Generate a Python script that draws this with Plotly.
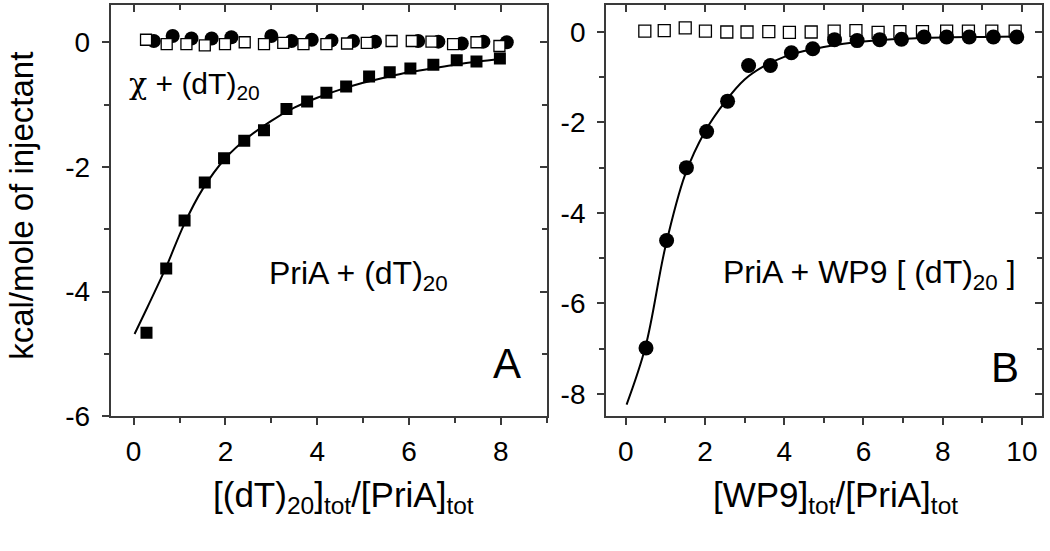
import plotly.graph_objects as go

# ---------------- Panel A data ----------------
a_pria_x = [0.28, 0.71, 1.11, 1.55, 1.97, 2.41, 2.84, 3.33, 3.78, 4.20, 4.63, 5.13, 5.58, 6.03, 6.53, 7.04, 7.47, 7.98]
a_pria_y = [-4.66, -3.63, -2.86, -2.25, -1.86, -1.58, -1.41, -1.07, -0.95, -0.81, -0.71, -0.55, -0.48, -0.42, -0.36, -0.29, -0.31, -0.26]

a_fit_x = [0.02, 0.3, 0.7, 1.1, 1.5, 2.0, 2.5, 3.0, 3.5, 4.0, 4.5, 5.0, 5.5, 6.0, 6.5, 7.0, 7.5, 8.0]
a_fit_y = [-4.68, -4.25, -3.62, -2.92, -2.36, -1.86, -1.52, -1.26, -1.05, -0.89, -0.76, -0.65, -0.56, -0.48, -0.42, -0.36, -0.31, -0.27]

a_ctrl_x = [0.27, 0.72, 1.15, 1.55, 1.99, 2.42, 2.84, 3.26, 3.70, 4.20, 4.65, 5.08, 5.62, 6.06, 6.49, 6.96, 7.47, 7.97]
a_ctrl_y = [0.04, -0.03, -0.03, -0.05, -0.03, 0.00, -0.03, -0.01, -0.03, -0.03, -0.02, -0.01, 0.02, 0.02, 0.01, -0.03, 0.00, -0.06]

a_chi_x = [0.44, 0.85, 1.26, 1.70, 2.13, 3.00, 3.44, 3.88, 4.31, 4.78, 5.26, 6.20, 6.64, 7.15, 7.62, 8.13]
a_chi_y = [0.02, 0.10, 0.06, 0.06, 0.08, 0.10, 0.02, 0.04, 0.03, 0.02, 0.01, 0.02, 0.01, -0.02, 0.01, 0.00]

# ---------------- Panel B data ----------------
b_wp9_x = [0.51, 1.03, 1.53, 2.04, 2.57, 3.10, 3.65, 4.18, 4.72, 5.27, 5.84, 6.41, 6.96, 7.53, 8.10, 8.67, 9.28, 9.87]
b_wp9_y = [-6.99, -4.61, -3.00, -2.20, -1.53, -0.74, -0.74, -0.46, -0.37, -0.17, -0.19, -0.17, -0.16, -0.11, -0.11, -0.11, -0.11, -0.11]

b_fit_x = [0.02, 0.5, 1.0, 1.5, 2.0, 2.5, 3.0, 3.5, 4.0, 4.5, 5.0, 5.5, 6.0, 7.0, 8.0, 9.0, 9.9]
b_fit_y = [-8.24, -6.95, -4.75, -3.15, -2.20, -1.55, -1.05, -0.75, -0.55, -0.42, -0.33, -0.26, -0.21, -0.15, -0.12, -0.11, -0.10]

b_ctrl_x = [0.48, 0.97, 1.50, 2.01, 2.55, 3.06, 3.61, 4.13, 4.68, 5.26, 5.81, 6.37, 6.92, 7.49, 8.10, 8.65, 9.24, 9.83]
b_ctrl_y = [0.02, 0.03, 0.09, 0.02, 0.00, 0.00, 0.01, -0.01, 0.00, 0.02, 0.03, -0.01, 0.01, 0.01, 0.02, 0.02, 0.02, 0.02]

a_xticks = [0, 2, 4, 6, 8]
a_yticks = [0, -2, -4, -6]
b_xticks = [0, 2, 4, 6, 8, 10]
b_yticks = [0, -2, -4, -6, -8]

def labels(vals):
    return [str(v) for v in vals]  # plain hyphen-minus as in the reference

FONT = "Liberation Sans, Arial, sans-serif"
W, H = 1050, 551
AX = "#3a3a3a"

fig = go.Figure()

# Panel A
fig.add_trace(go.Scatter(x=a_chi_x, y=a_chi_y, mode="markers", xaxis="x", yaxis="y",
                         marker=dict(symbol="circle", size=14, color="black", line=dict(width=0)), showlegend=False))
fig.add_trace(go.Scatter(x=a_ctrl_x, y=a_ctrl_y, mode="markers", xaxis="x", yaxis="y",
                         marker=dict(symbol="square", size=11, color="white", line=dict(width=1.3, color="black")), showlegend=False))
fig.add_trace(go.Scatter(x=a_fit_x, y=a_fit_y, mode="lines", xaxis="x", yaxis="y",
                         line=dict(color="black", width=2, shape="spline"), showlegend=False))
fig.add_trace(go.Scatter(x=a_pria_x, y=a_pria_y, mode="markers", xaxis="x", yaxis="y",
                         marker=dict(symbol="square", size=12, color="black", line=dict(width=0)), showlegend=False))

# Panel B
fig.add_trace(go.Scatter(x=b_ctrl_x, y=b_ctrl_y, mode="markers", xaxis="x2", yaxis="y2",
                         marker=dict(symbol="square", size=12, color="white", line=dict(width=1.3, color="black")), showlegend=False))
fig.add_trace(go.Scatter(x=b_fit_x, y=b_fit_y, mode="lines", xaxis="x2", yaxis="y2",
                         line=dict(color="black", width=2, shape="spline"), showlegend=False))
fig.add_trace(go.Scatter(x=b_wp9_x, y=b_wp9_y, mode="markers", xaxis="x2", yaxis="y2",
                         marker=dict(symbol="circle", size=15, color="black", line=dict(width=0)), showlegend=False))

# empty traces so the mirrored (top / right) frame axes are drawn
fig.add_trace(go.Scatter(x=[], y=[], xaxis="x3", yaxis="y3", showlegend=False, hoverinfo="skip"))
fig.add_trace(go.Scatter(x=[], y=[], xaxis="x4", yaxis="y4", showlegend=False, hoverinfo="skip"))

xdomA = [110.7 / W, 546.7 / W]
xdomB = [606.0 / W, 1041.7 / W]
ydom = [1 - 428.8 / H, 1 - 5.0 / H]

tickfont = dict(family=FONT, size=28, color="black")

def base_axis(**kw):
    d = dict(showgrid=False, zeroline=False, showline=True, linecolor=AX, linewidth=1.8,
             ticks="outside", ticklen=7, tickwidth=1.5, tickcolor=AX, tickfont=tickfont,
             minor=dict(ticks="outside", ticklen=5, tickwidth=1.5, tickcolor=AX, dtick=1, showgrid=False))
    d.update(kw)
    return d

def mirror_axis(**kw):
    d = dict(showgrid=False, zeroline=False, showline=True, linecolor=AX, linewidth=1.8,
             ticks="inside", ticklen=7, tickwidth=1.5, tickcolor=AX, showticklabels=False,
             minor=dict(ticks="inside", ticklen=5, tickwidth=1.5, tickcolor=AX, dtick=1, showgrid=False))
    d.update(kw)
    return d

fig.update_layout(
    width=W, height=H,
    margin=dict(l=0, r=0, t=0, b=0),
    paper_bgcolor="white", plot_bgcolor="white",
    font=dict(family=FONT, color="black"),
    xaxis=base_axis(domain=xdomA, range=[-0.5, 9], tickvals=a_xticks, ticktext=labels(a_xticks),
                    anchor="y", ticklabelstandoff=2),
    yaxis=base_axis(domain=ydom, range=[-6, 0.6], tickvals=a_yticks, ticktext=labels(a_yticks),
                    anchor="x", ticklabelstandoff=6),
    xaxis3=mirror_axis(domain=xdomA, range=[-0.5, 9], tickvals=a_xticks, overlaying="x", side="top", anchor="y3"),
    yaxis3=mirror_axis(domain=ydom, range=[-6, 0.6], tickvals=a_yticks, overlaying="y", side="right", anchor="x3"),
    xaxis2=base_axis(domain=xdomB, range=[-0.5, 10.5], tickvals=b_xticks, ticktext=labels(b_xticks),
                     anchor="y2", ticklabelstandoff=2),
    yaxis2=base_axis(domain=ydom, range=[-8.5, 0.6], tickvals=b_yticks, ticktext=labels(b_yticks),
                     anchor="x2", ticklabelstandoff=6),
    xaxis4=mirror_axis(domain=xdomB, range=[-0.5, 10.5], tickvals=b_xticks, overlaying="x2", side="top", anchor="y4"),
    yaxis4=mirror_axis(domain=ydom, range=[-8.5, 0.6], tickvals=b_yticks, overlaying="y2", side="right", anchor="x4"),
)

def px_x(v):
    return v / W

def px_y(v):
    return 1 - v / H

annots = [
    dict(text="kcal/mole of injectant", x=px_x(22), y=px_y(212), textangle=-90, size=33,
         xanchor="center", yanchor="middle"),
    dict(text="[(dT)<sub>20</sub>]<sub>tot</sub>/[PriA]<sub>tot</sub>", x=px_x(211), y=px_y(512), size=35,
         xanchor="left", yanchor="middle"),
    dict(text="[WP9]<sub>tot</sub>/[PriA]<sub>tot</sub>", x=px_x(711), y=px_y(512), size=35,
         xanchor="left", yanchor="middle"),
    dict(text="<span style=\"font-family:DejaVu Serif\">χ</span> + (dT)<sub>20</sub>", x=px_x(127), y=px_y(88),
         size=30, xanchor="left", yanchor="middle"),
    dict(text="PriA + (dT)<sub>20</sub>", x=px_x(267), y=px_y(284), size=32, xanchor="left", yanchor="middle"),
    dict(text="PriA + WP9 [ (dT)<sub>20</sub> ]", x=px_x(721), y=px_y(283), size=32, xanchor="left", yanchor="middle"),
    dict(text="A", x=px_x(507), y=px_y(374), size=42, xanchor="center", yanchor="middle"),
    dict(text="B", x=px_x(1005), y=px_y(378), size=42, xanchor="center", yanchor="middle"),
]
for a in annots:
    fig.add_annotation(text=a["text"], x=a["x"], y=a["y"], xref="paper", yref="paper",
                       showarrow=False, xanchor=a["xanchor"], yanchor=a["yanchor"],
                       textangle=a.get("textangle", 0),
                       font=dict(family=FONT, size=a["size"], color="black"))

fig.write_html("out.html", config={"displayModeBar": False},
               post_script="document.body.style.margin='0px';")
